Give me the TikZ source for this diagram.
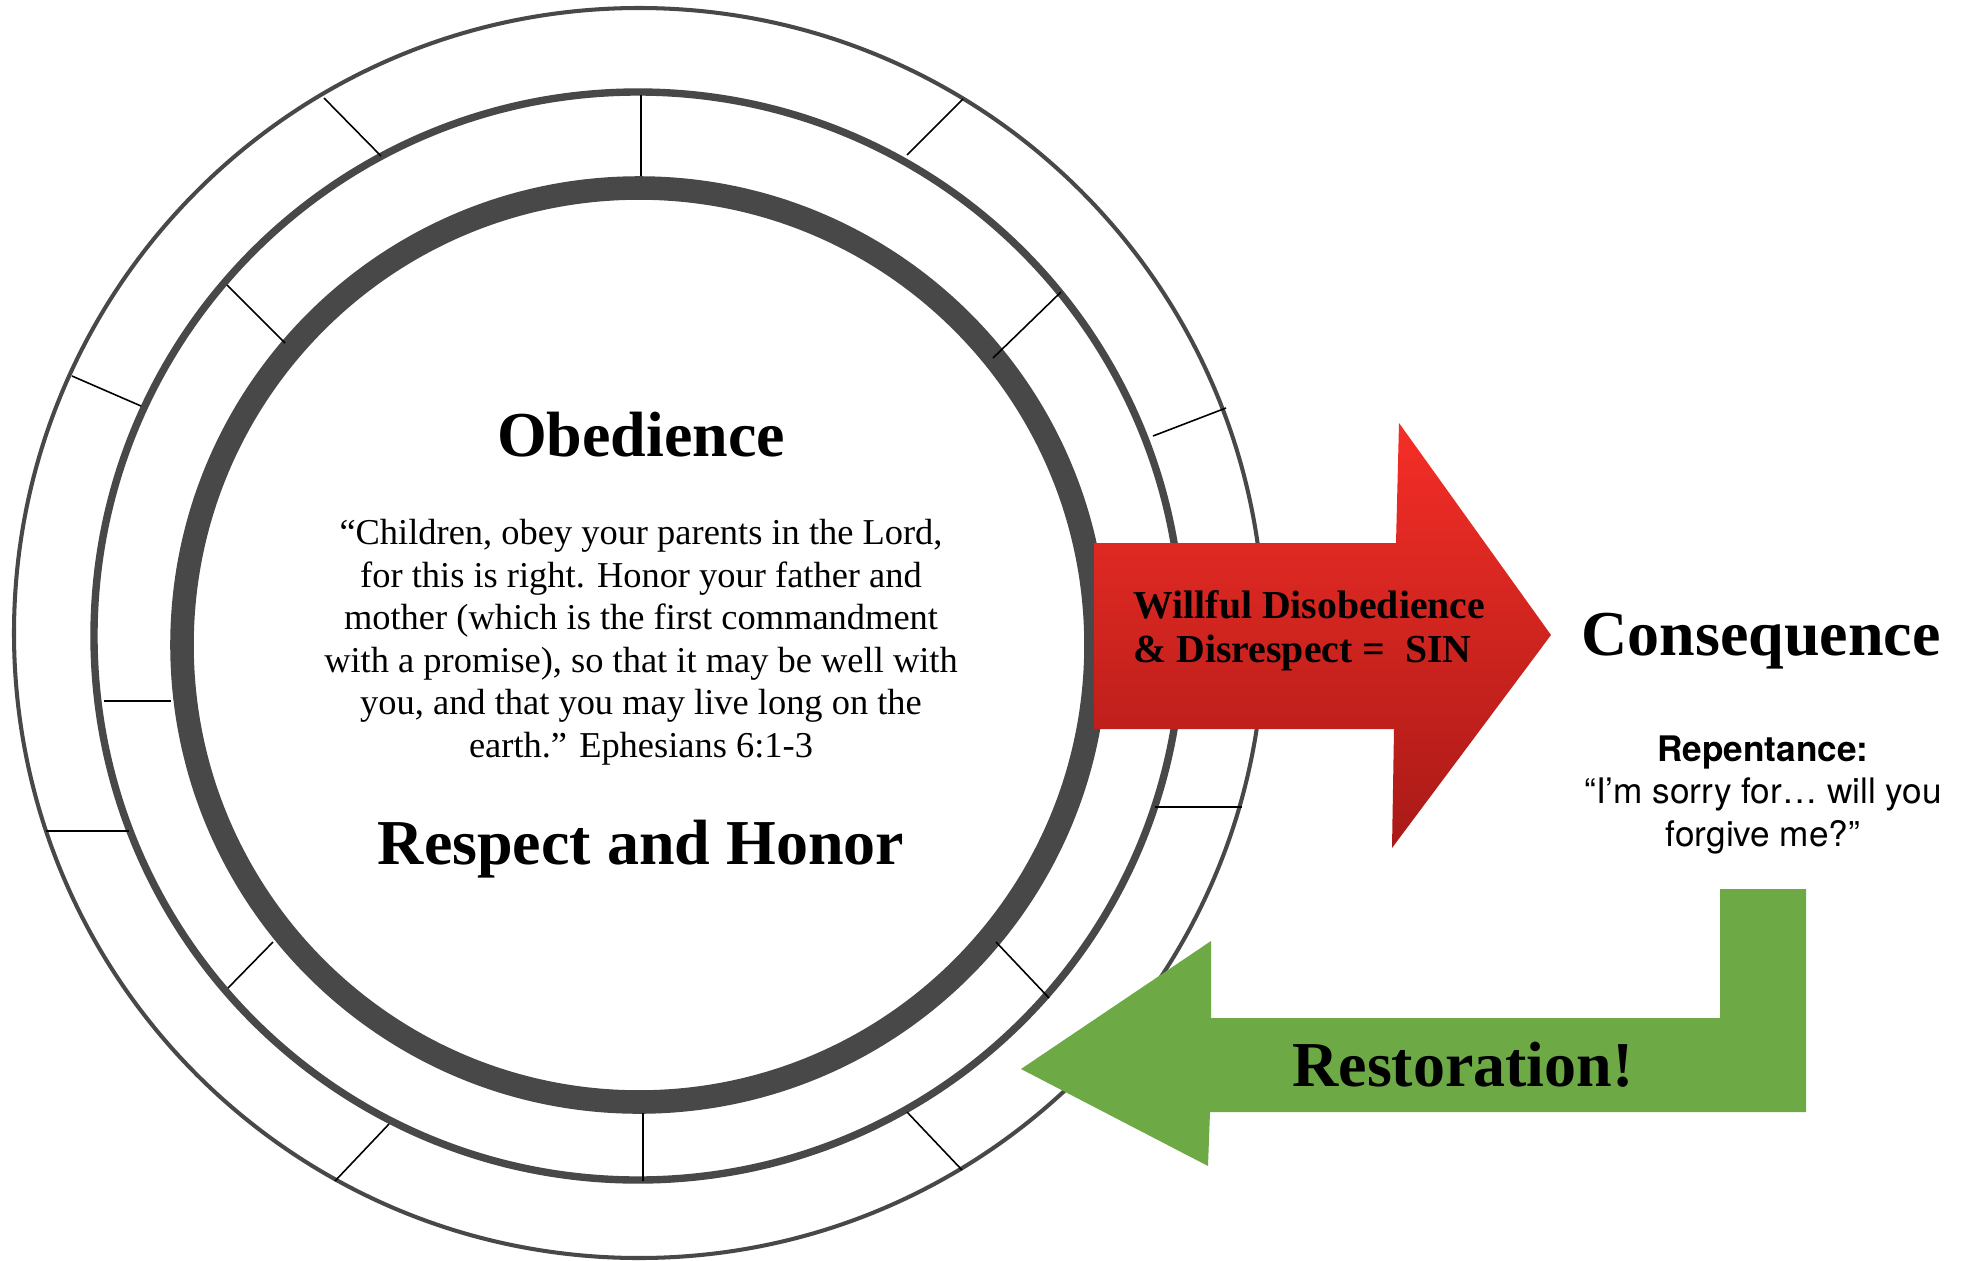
\documentclass[tikz,border=0pt]{standalone}
\usepackage{fontspec}
\setmainfont{Liberation Serif}
\setsansfont{TeX Gyre Heros}
\definecolor{ringgray}{HTML}{484848}
\definecolor{redtop}{HTML}{F52E27}
\definecolor{redbot}{HTML}{A91A17}
\definecolor{grn}{HTML}{6DAA45}
\begin{document}
\begin{tikzpicture}[x=0.01cm,y=-0.01cm,
  ring/.style={draw=ringgray, line width=#1},
  tickline/.style={draw=black, line width=0.45pt},
  bigtitle/.style={font=\fontsize{18.2}{22}\selectfont\bfseries, inner sep=0pt, anchor=base},
  bodytext/.style={font=\fontsize{10.36}{12.09}\selectfont, align=center, inner sep=0pt},
  arrowtext/.style={font=\fontsize{11.3}{13}\selectfont\bfseries, inner sep=0pt, anchor=base west},
  sanstext/.style={font=\fontsize{10}{12.1}\selectfont\sffamily, align=center, inner sep=0pt}]
\useasboundingbox (0,0) rectangle (1963,1260);
\fill[white] (0,0) rectangle (1963,1260);

% rings
\draw[ring=1.15pt, fill=white] (639,633) circle[radius=625];
\draw[ring=2.1pt] (638,636) circle[radius=544];
\draw[ring=6.7pt] (639,645) circle[radius=457];

% ticks, outer band
\draw[tickline] (324,98) -- (381,156);
\draw[tickline] (907,155) -- (963,99);
\draw[tickline] (72,376) -- (141,406);
\draw[tickline] (1153,436) -- (1226,408);
\draw[tickline] (46,831) -- (129,831);
\draw[tickline] (1155,807) -- (1242,807);
\draw[tickline] (335,1181) -- (389,1124);
\draw[tickline] (907,1112) -- (962,1170);
% ticks, inner band
\draw[tickline] (641,95) -- (641,176);
\draw[tickline] (227,285) -- (285,343);
\draw[tickline] (993,358) -- (1061,292);
\draw[tickline] (104,701) -- (171,701);
\draw[tickline] (228,988) -- (273,942);
\draw[tickline] (996,942) -- (1049,998);
\draw[tickline] (643,1113) -- (643,1181);

% red arrow
\shade[top color=redtop, bottom color=redbot]
  (1094,543) -- (1396,543) -- (1399,423) -- (1551,635) -- (1392,848)
  -- (1394,729) -- (1094,729) -- cycle;

% green bent arrow
\fill[grn] (1720,889) -- (1806,889) -- (1806,1112) -- (1210,1112)
  -- (1208,1166) -- (1021,1069) -- (1211,941) -- (1211,1018)
  -- (1720,1018) -- cycle;

% texts
\node[bigtitle] (obed) at (641,456) {Obedience};
\node[bodytext] (verse) at (641,642) {“Children, obey your parents in the Lord,\\
for this is right. Honor your father and\\
mother (which is the first commandment\\
with a promise), so that it may be well with\\
you, and that you may live long on the\\
earth.” Ephesians 6:1-3};
\node[bigtitle] (resp) at (641,864) {Respect and Honor};
\node[arrowtext] (sin1) at (1133,618) {Willful Disobedience};
\node[arrowtext] (sin2) at (1133,662) {\& Disrespect = \ SIN};
\node[bigtitle] (cons) at (1761,655) {Consequence};
\node[sanstext] (rep) at (1763,795) {\textbf{Repentance:}\\
“I’m sorry for… will you\\
forgive me?”};
\node[bigtitle] (rest) at (1463,1086) {Restoration!};
\end{tikzpicture}
\end{document}
